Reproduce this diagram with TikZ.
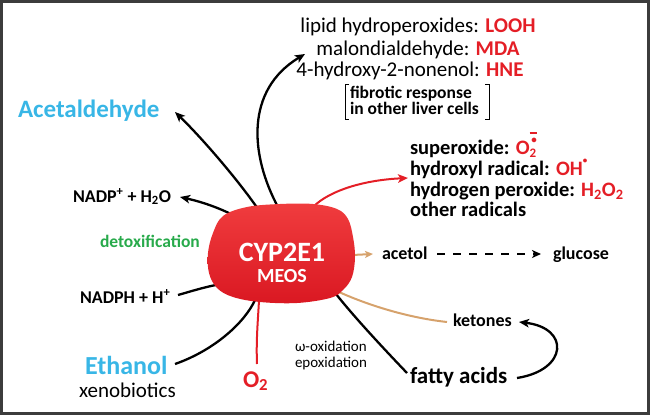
\documentclass[tikz,border=0pt]{standalone}
\usepackage{fontspec}
\setmainfont{Carlito}
\usetikzlibrary{arrows.meta}
\definecolor{cred}{RGB}{228,30,38}
\definecolor{ccyan}{RGB}{56,182,230}
\definecolor{cgreen}{RGB}{40,170,75}
\definecolor{ctan}{RGB}{214,162,108}
\definecolor{cframe}{RGB}{60,60,60}
\definecolor{blobtop}{RGB}{240,60,62}
\definecolor{blobbot}{RGB}{218,24,34}
\newcommand\fsz[1]{\fontsize{#1}{#1}\selectfont}
\newcommand\superox{O\rlap{\raisebox{-0.18em}{\fsz{13}2}}\rlap{\raisebox{0.5em}{\hspace{0.08em}\fsz{11}\textbullet}}\raisebox{1.0em}{\rule{0.38em}{0.08em}}}
\newcommand\hydrox{OH\raisebox{0.55em}{\fsz{9}\textbullet}}
\begin{document}
\begin{tikzpicture}[x=1pt,y=-1pt,
  lbl/.style={anchor=base west, inner sep=0pt, outer sep=0pt},
  ctr/.style={anchor=base, inner sep=0pt, outer sep=0pt},
  conn/.style={line width=2.3pt, draw=black},
  redconn/.style={line width=2pt, draw=cred},
  tanconn/.style={line width=2pt, draw=ctan},
  tip/.style={-{Stealth[length=10pt,width=8.5pt,inset=2.5pt]}}
]
\useasboundingbox (0,0) rectangle (650,415);
\draw[cframe, line width=2.6pt] (1.3,1.3) rectangle (648.7,413.7);

% ---------- text nodes ----------
\node[ctr, font=\fsz{21}] (l1) at (418,32) {lipid hydroperoxides: \textcolor{cred}{\bfseries LOOH}};
\node[ctr, font=\fsz{21}] (l2) at (418,55) {malondialdehyde: \textcolor{cred}{\bfseries MDA}};
\node[ctr, font=\fsz{21}] (l3) at (410,76) {4-hydroxy-2-nonenol: \textcolor{cred}{\bfseries HNE}};
\node[lbl, font=\fsz{17.5}\bfseries] (fib1) at (350,98) {fibrotic response};
\node[lbl, font=\fsz{17.5}\bfseries] (fib2) at (350,114) {in other liver cells};
\draw[line width=1pt] (349,84) -- (345,84) -- (345,119) -- (349,119);
\draw[line width=1pt] (485,84) -- (489,84) -- (489,119) -- (485,119);

\node[lbl, font=\fsz{20.5}\bfseries] (r1) at (410,154) {superoxide: \textcolor{cred}{\superox}};
\node[lbl, font=\fsz{20.5}\bfseries] (r2) at (410,175) {hydroxyl radical: \textcolor{cred}{\hydrox}};
\node[lbl, font=\fsz{20.5}\bfseries] (r3) at (410,196) {hydrogen peroxide: \textcolor{cred}{H\textsubscript{2}O\textsubscript{2}}};
\node[lbl, font=\fsz{20.5}\bfseries] (r4) at (410,216) {other radicals};

\node[lbl, font=\fsz{25}\bfseries, text=ccyan] (ace) at (18,117) {Acetaldehyde};
\node[lbl, font=\fsz{18}\bfseries] (nadp) at (73,202) {NADP\textsuperscript{+} + H\textsubscript{2}O};
\node[lbl, font=\fsz{17.5}\bfseries, text=cgreen] (detox) at (100,247) {detoxification};
\node[lbl, font=\fsz{18}\bfseries] (nadph) at (80,303) {NADPH + H\textsuperscript{+}};
\node[lbl, font=\fsz{26}\bfseries, text=ccyan] (eth) at (85,374) {Ethanol};
\node[lbl, font=\fsz{21}] (xeno) at (79,397) {xenobiotics};
\node[lbl, font=\fsz{24}\bfseries, text=cred] (o2) at (243,387) {O\textsubscript{2}};
\node[lbl, font=\fsz{15}] (omega) at (295,351) {ω-oxidation};
\node[lbl, font=\fsz{15}] (epox) at (295,367) {epoxidation};
\node[lbl, font=\fsz{23}\bfseries] (fat) at (410,383) {fatty acids};
\node[lbl, font=\fsz{18}\bfseries] (ket) at (453,326) {ketones};
\node[lbl, font=\fsz{18}\bfseries] (acetol) at (382,259) {acetol};
\node[lbl, font=\fsz{18}\bfseries] (gluc) at (553,259) {glucose};

% ---------- connector end points ----------
\coordinate (bTop) at (278,207);
\coordinate (bAce) at (258,209);
\coordinate (bNadp) at (233,215);
\coordinate (bNadph) at (216,285);
\coordinate (bEth) at (255,300);
\coordinate (bO2) at (259,300);
\coordinate (bRed) at (313,207);
\coordinate (bAcetol) at (352,255);
\coordinate (bTan) at (339,292);
\coordinate (bFat) at (336,294);
\coordinate (tTop) at (305,54);
\coordinate (tAce) at (175,112);
\coordinate (tNadp) at (180,197);
\coordinate (eNadph) at (178,295);
\coordinate (eEth) at (175,364);
\coordinate (eO2) at (257,364);
\coordinate (tRed) at (408,178);
\coordinate (tAcetol) at (373,254);
\coordinate (dStart) at (437,254);
\coordinate (tGluc) at (541,254);
\coordinate (eKet) at (447,322);
\coordinate (eFat) at (407,373);
\coordinate (sFat) at (517,378);
\coordinate (tKet) at (519,322);

% ---------- connectors ----------
\draw[conn, tip] (bTop) .. controls (250,155) and (245,90) .. (tTop);
\draw[conn, tip] (bAce) .. controls (238,180) and (202,138) .. (tAce);
\draw[conn, tip] (bNadp) .. controls (215,206) and (198,201) .. (tNadp);
\draw[conn] (eNadph) .. controls (192,291) and (205,287) .. (bNadph);
\draw[conn] (eEth) .. controls (215,350) and (245,322) .. (bEth);
\draw[redconn] (eO2) .. controls (256,340) and (258,320) .. (bO2);
\draw[redconn, -{Stealth[length=10pt,width=8.5pt,inset=2.5pt]}] (bRed) .. controls (330,190) and (365,180) .. (tRed);
\draw[tanconn, -{Stealth[length=8pt,width=7pt,inset=2pt]}] (bAcetol) -- (tAcetol);
\draw[conn, line width=2.5pt, dash pattern=on 8pt off 8pt, -{Stealth[length=9pt,width=8pt,inset=2.5pt]}] (dStart) -- (tGluc);
\draw[tanconn] (bTan) .. controls (370,306) and (410,318) .. (eKet);
\draw[conn] (bFat) .. controls (355,318) and (385,350) .. (eFat);
\draw[conn, tip] (sFat) .. controls (568,370) and (570,328) .. (tKet);

% ---------- enzyme blob ----------
\shade[top color=blobtop, bottom color=blobbot]
  plot[smooth cycle, tension=0.6] coordinates {
  (223,216) (247,207) (280,204) (313,204) (337,209) (348,219) (353,237)
  (355,257) (352,277) (343,290) (330,298) (297,303) (260,302) (233,297)
  (217,288) (209,273) (208,253) (213,233)};
\node[ctr, font=\fsz{28}\bfseries, text=white] (cyp) at (282,261) {CYP2E1};
\node[ctr, font=\fsz{20}\bfseries, text=white] (meos) at (282,282) {MEOS};
\end{tikzpicture}
\end{document}
